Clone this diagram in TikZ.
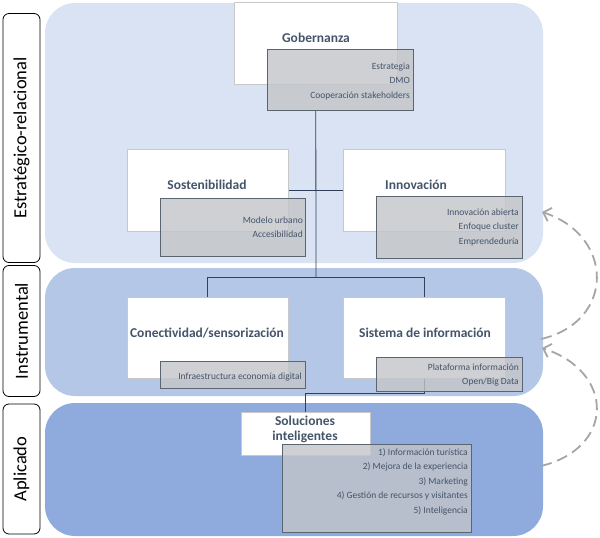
\documentclass[tikz,border=0pt]{standalone}
\usepackage{fontspec}
\setmainfont{Carlito}
\usetikzlibrary{arrows.meta}
\definecolor{bandA}{HTML}{DAE3F3}
\definecolor{bandB}{HTML}{B4C7E7}
\definecolor{bandC}{HTML}{8FAADC}
\definecolor{txt}{HTML}{44546A}
\definecolor{grayfill}{HTML}{C3C5C8}
\definecolor{grayline}{HTML}{5B6570}
\definecolor{wline}{HTML}{C8C8C8}
\definecolor{conn}{HTML}{2F4058}
\definecolor{dashc}{HTML}{A6A6A6}
\pgfdeclarelayer{bands}
\pgfdeclarelayer{conns}
\pgfsetlayers{bands,conns,main}
\tikzset{
  band/.style={rounded corners=30pt},
  lab/.style={draw=black, line width=0.8pt, rounded corners=6pt, fill=white, rotate=90, inner sep=0pt,
    font=\fontsize{18.5}{22}\selectfont},
  wbox/.style={draw=wline, fill=white, anchor=north west, inner sep=0pt, line width=0.6pt},
  gbox/.style={draw=grayline, fill=grayfill, fill opacity=0.8, text opacity=1, anchor=north west, inner sep=0pt, line width=0.8pt},
  ttl/.style={font=\fontsize{13.5}{15}\selectfont\bfseries, text=txt, align=center, inner sep=0pt},
  sm/.style={font=\fontsize{9.5}{14.5}\selectfont, text=txt, align=right, anchor=north east, inner sep=0pt},
  cline/.style={draw=conn, line width=0.8pt},
  darrow/.style={draw=dashc, line width=1.8pt, dash pattern=on 11pt off 6pt, -{Straight Barb[length=7pt,width=14pt]}}
}
\begin{document}
\begin{tikzpicture}[x=1pt,y=-1pt]
\useasboundingbox (0,0) rectangle (600,538);
% bands
\begin{pgfonlayer}{bands}
\fill[band, bandA] (45,3) rectangle (543,263);
\fill[band, bandB] (45,268) rectangle (543,396);
\fill[band, bandC] (45,403) rectangle (543,536);
\end{pgfonlayer}
% side labels
\node[lab, minimum width=249pt, minimum height=37pt] (lab1) at (21.5,138) {Estratégico-relacional};
\node[lab, minimum width=131pt, minimum height=37pt] (lab2) at (21.5,331) {Instrumental};
\node[lab, minimum width=130pt, minimum height=37pt] (lab3) at (21.5,469) {Aplicado};
% white boxes
\node[wbox, minimum width=163pt, minimum height=82pt] (gob) at (234,2) {};
\node[wbox, minimum width=161pt, minimum height=82pt] (sost) at (127,149) {};
\node[wbox, minimum width=162pt, minimum height=82pt] (inno) at (343,149) {};
\node[wbox, minimum width=161pt, minimum height=81pt] (con) at (127,297) {};
\node[wbox, minimum width=162pt, minimum height=81pt] (sis) at (343,297) {};
\node[wbox, minimum width=129pt, minimum height=43pt] (sol) at (241,412) {};
% titles
\node[ttl] (gobT) at (316,38) {Gobernanza};
\node[ttl] (sostT) at (207,185) {Sostenibilidad};
\node[ttl] (innoT) at (416,185) {Innovación};
\node[ttl] (conT) at (207,333) {Conectividad/sensorización};
\node[ttl] (sisT) at (425,333) {Sistema de información};
\node[ttl] (solT) at (305,429) {Soluciones\\inteligentes};
% gray boxes
\node[gbox, minimum width=146pt, minimum height=61pt] (gobG) at (267,49) {};
\node[gbox, minimum width=145pt, minimum height=58pt] (sostG) at (160,198) {};
\node[gbox, minimum width=146pt, minimum height=62pt] (innoG) at (376,196) {};
\node[gbox, minimum width=145pt, minimum height=27pt] (conG) at (160,361) {};
\node[gbox, minimum width=146pt, minimum height=34pt] (sisG) at (376,357) {};
\node[gbox, minimum width=189pt, minimum height=88pt] (solG) at (282,444) {};
% gray box texts
\node[sm] (gobL) at (410,62.5) {Estrategia\\DMO\\Cooperación stakeholders};
\node[sm] (sostL) at (303,216.5) {Modelo urbano\\Accesibilidad};
\node[sm] (innoL) at (519,208.5) {Innovación abierta\\Enfoque cluster\\Emprendeduría};
\node[sm] (conL) at (302,372.5) {Infraestructura economía digital};
\node[sm] (sisL) at (519,363.5) {Plataforma información\\Open/Big Data};
\node[sm] (solL) at (468,448) {1) Información turística\\2) Mejora de la experiencia\\3) Marketing\\4) Gestión de recursos y visitantes\\5) Inteligencia};
% connectors
\coordinate (j1) at (316,277);
\begin{pgfonlayer}{conns}
\draw[cline] (gob.south |- gobG.south) -- (j1);
\draw[cline] (sost.east) -- (inno.west);
\draw[cline] (con.north) -- ++(0,-20) -| (sis.north);
\draw[cline] (sis.south) -- ++(0,15) -| (sol.north);
\end{pgfonlayer}
% dashed arrows
\coordinate (a1s) at (541,339);
\coordinate (a1e) at (542,212);
\coordinate (a2s) at (541,466);
\coordinate (a2e) at (542,348);
\draw[darrow] (a1s) .. controls (615,322) and (615,236) .. (a1e);
\draw[darrow] (a2s) .. controls (615,448) and (615,372) .. (a2e);
\end{tikzpicture}
\end{document}
